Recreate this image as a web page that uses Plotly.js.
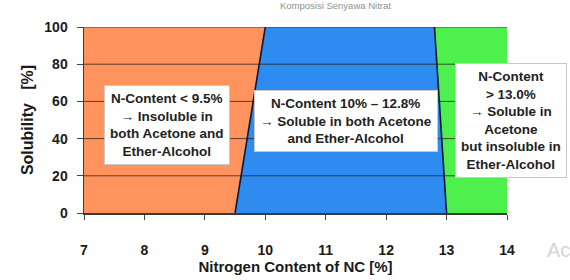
<!DOCTYPE html>
<html>
<head>
<meta charset="utf-8">
<script src="https://cdn.plot.ly/plotly-3.0.1.min.js"></script>
<style>html,body{margin:0;padding:0;background:#fff;}#chart{width:570px;height:280px;}</style>
</head>
<body>
<div id="chart"></div>
<script>
// Region boundaries (Nitrogen content %) at 0 % and 100 % solubility
const bottomX = [7, 9.5, 13, 14];
const topX = [7, 10, 12.8, 14];
const solubilityRange = [0, 100];
const regionColors = ['#FF935E', '#2E8BEF', '#4DF04D'];
const xTicks = [7, 8, 9, 10, 11, 12, 13, 14];
const yTicks = [0, 20, 40, 60, 80, 100];
const gridValues = [20, 40, 60, 80, 100];
const boxTexts = [
  'N-Content < 9.5%<br>→ Insoluble in<br>both Acetone and<br>Ether-Alcohol',
  'N-Content 10% – 12.8%<br>→ Soluble in both Acetone<br>and Ether-Alcohol',
  'N-Content<br>> 13.0%<br>→ Soluble in<br>Acetone<br>but insoluble in<br>Ether-Alcohol'
];
const boxX = [8.37, 11.34, 14.07];
const boxY = [47.3, 49.5, 49.5];

const xMin = 7, xMax = 14;
const y0 = solubilityRange[0], y1 = solubilityRange[1];
const traces = [];
for (let i = 0; i < 3; i++) {
  traces.push({
    type: 'scatter', mode: 'lines', fill: 'toself',
    x: [bottomX[i], bottomX[i+1], topX[i+1], topX[i], bottomX[i]],
    y: [y0, y0, y1, y1, y0],
    fillcolor: regionColors[i], line: {width: 0}, hoverinfo: 'skip'
  });
}
for (let j = 1; j <= 2; j++) {
  traces.push({
    type: 'scatter', mode: 'lines',
    x: [bottomX[j], topX[j]], y: [y0, y1],
    line: {color: '#101830', width: 1.6}, hoverinfo: 'skip'
  });
}

const shapes = gridValues.map(v => ({
  type: 'line', xref: 'paper', yref: 'y', x0: 0, x1: 1, y0: v, y1: v,
  line: {color: 'rgba(40,30,20,0.75)', width: 1}, layer: 'above'
}));

const font = {family: 'Liberation Sans, Arial, sans-serif', color: '#1a1a1a'};
const annotations = boxTexts.map((t, i) => ({
  x: (boxX[i] - xMin) / (xMax - xMin), y: (boxY[i] - y0) / (y1 - y0),
  xref: 'paper', yref: 'paper', xanchor: 'center', yanchor: 'middle',
  text: '<b>' + t + '</b>',
  showarrow: false, bgcolor: '#ffffff', bordercolor: '#c8c8c8', borderwidth: 1,
  borderpad: 5, font: Object.assign({}, font, {size: 13.5, color: '#222'})
}));
annotations.push({
  x: 0.73, y: 1.0, xref: 'paper', yref: 'paper', yanchor: 'bottom',
  text: 'Komposisi Senyawa Nitrat', showarrow: false,
  font: {family: 'Liberation Sans, Arial, sans-serif', size: 9.5, color: '#8f8f8f'}, yshift: 14
});
annotations.push({
  x: 1.0, y: -0.2, xref: 'paper', yref: 'paper', showarrow: false, text: 'Ac',
  font: {family: 'Liberation Sans, Arial, sans-serif', size: 20, color: '#d5d5d5'},
  xanchor: 'left', yanchor: 'middle', xshift: 38
});

const layout = {
  width: 570, height: 280,
  margin: {l: 84, r: 63, t: 27, b: 67},
  paper_bgcolor: '#ffffff', plot_bgcolor: '#ffffff',
  showlegend: false,
  xaxis: {
    range: [xMin, xMax], tickvals: xTicks, ticktext: xTicks.map(String),
    ticks: 'outside', ticklen: 5, tickcolor: '#444', showgrid: false, zeroline: false,
    showline: true, linecolor: '#3a3a3a', linewidth: 1.5, ticklabelstandoff: 19,
    tickfont: Object.assign({}, font, {size: 14, weight: 'bold'}),
    title: {text: '<b>Nitrogen Content of NC [%]</b>', font: Object.assign({}, font, {size: 15}), standoff: 4}
  },
  yaxis: {
    range: [y0, y1], tickvals: yTicks, ticktext: yTicks.map(String),
    ticks: 'outside', ticklen: 6, tickcolor: '#444', showgrid: false, zeroline: false,
    showline: true, linecolor: '#3a3a3a', linewidth: 1.5, ticklabelstandoff: 6,
    tickfont: Object.assign({}, font, {size: 14, weight: 'bold'}),
    title: {text: '<b>Solubility   [%]</b>', font: Object.assign({}, font, {size: 16}), standoff: 6}
  },
  shapes: shapes,
  annotations: annotations
};

Plotly.newPlot('chart', traces, layout, {displayModeBar: false, staticPlot: true});
</script>
</body>
</html>
